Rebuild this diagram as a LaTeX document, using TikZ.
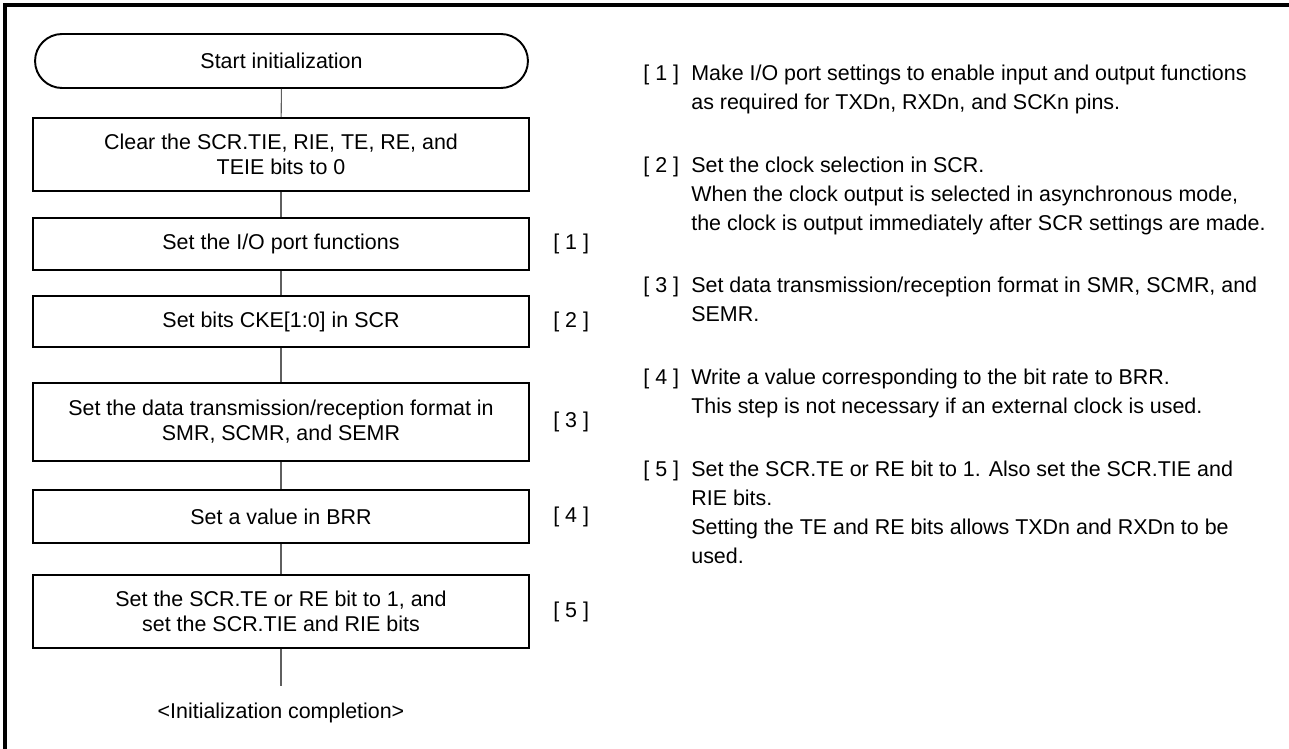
\documentclass[tikz,border=0pt]{standalone}
\usepackage{fontspec}
\setmainfont{Liberation Sans}
\usepackage{xcolor}
\usepackage{tikz}
\usetikzlibrary{positioning}
\definecolor{trait}{RGB}{95,95,95}
\newcommand{\boxfont}{\fontsize{12.2pt}{14.2pt}\selectfont}
\newcommand{\notefont}{\fontsize{12.2pt}{16.5pt}\selectfont}

\begin{document}
\begin{tikzpicture}[x=0.02cm,y=-0.02cm,
    stepbox/.style={draw,line width=1.1pt,minimum width=9.92cm,align=center,
                    font=\boxfont,inner sep=0pt},
    term/.style={stepbox,minimum width=9.86cm,minimum height=1.08cm,rounded corners=0.54cm},
    link/.style={trait,line width=0.6pt},
    tag/.style={font=\boxfont,inner sep=0pt},
    note/.style={anchor=north west,inner sep=0pt,font=\notefont}]
    % une unite = un pixel de l'image : x vers la droite, y vers le bas
    \useasboundingbox (0,0) rectangle (1289,749);
    \draw[line width=2.3pt] (5,749)--(5,5)--(1289,5);
    \node[term] (start) at (281.5,61) {Start initialization};
    \node[stepbox,minimum height=1.46cm] (clr) at (281,154.5)
      {Clear the SCR.TIE, RIE, TE, RE, and\\TEIE bits to 0};
    \node[stepbox,minimum height=1.04cm] (port) at (281,244) {Set the I/O port functions};
    \node[stepbox,minimum height=1.02cm] (cke) at (281,321.5) {Set bits CKE[1:0] in SCR};
    \node[stepbox,minimum height=1.56cm] (fmt) at (281,422)
      {Set the data transmission/reception format in\\SMR, SCMR, and SEMR};
    \node[stepbox,minimum height=1.06cm] (brr) at (281,516.5) {Set a value in BRR};
    \node[stepbox,minimum height=1.46cm] (ena) at (281,611.5)
      {Set the SCR.TE or RE bit to 1, and\\set the SCR.TIE and RIE bits};
    \coordinate (tail) at (281,686);
    \node[tag] (done) at (281,713) {<Initialization completion>};
    \draw[link] (start)--(clr);
    \draw[link] (clr)--(port);
    \draw[link] (port)--(cke);
    \draw[link] (cke)--(fmt);
    \draw[link] (fmt)--(brr);
    \draw[link] (brr)--(ena);
    \draw[link] (ena)--(tail);
    \foreach \b/\n in {port/1,cke/2,fmt/3,brr/4,ena/5}{
      \node[tag,right=0.46cm of \b] (t\n) {[ \n\ ]};}
    % notes de droite
    \node[note] (n1) at (643,60) {\begin{tabular}{@{}p{0.96cm}@{}l@{}}
      [ 1 ] & Make I/O port settings to enable input and output functions\\
            & as required for TXDn, RXDn, and SCKn pins.\end{tabular}};
    \node[note,below=0.66cm of n1.south west,anchor=north west] (n2) {\begin{tabular}{@{}p{0.96cm}@{}l@{}}
      [ 2 ] & Set the clock selection in SCR.\\
            & When the clock output is selected in asynchronous mode,\\
            & the clock is output immediately after SCR settings are made.\end{tabular}};
    \node[note,below=0.66cm of n2.south west,anchor=north west] (n3) {\begin{tabular}{@{}p{0.96cm}@{}l@{}}
      [ 3 ] & Set data transmission/reception format in SMR, SCMR, and\\
            & SEMR.\end{tabular}};
    \node[note,below=0.66cm of n3.south west,anchor=north west] (n4) {\begin{tabular}{@{}p{0.96cm}@{}l@{}}
      [ 4 ] & Write a value corresponding to the bit rate to BRR.\\
            & This step is not necessary if an external clock is used.\end{tabular}};
    \node[note,below=0.66cm of n4.south west,anchor=north west] (n5) {\begin{tabular}{@{}p{0.96cm}@{}l@{}}
      [ 5 ] & Set the SCR.TE or RE bit to 1. Also set the SCR.TIE and\\
            & RIE bits.\\
            & Setting the TE and RE bits allows TXDn and RXDn to be\\
            & used.\end{tabular}};
\end{tikzpicture}
\end{document}
